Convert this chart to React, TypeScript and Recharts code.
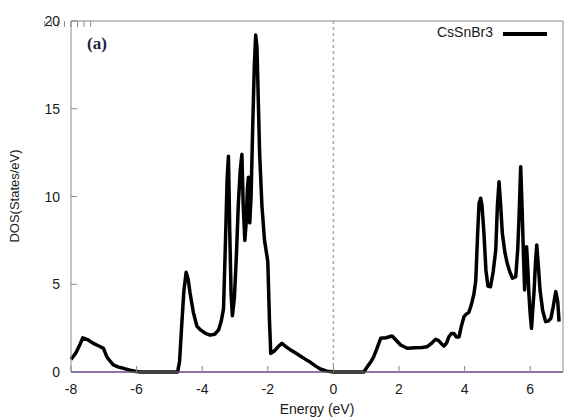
import { LineChart, Line, XAxis, YAxis, ReferenceLine } from 'recharts';

// Energy (eV) and total DOS (States/eV) for CsSnBr3
const energy = [
  -8.0, -7.85, -7.72, -7.64, -7.5, -7.32, -7.15, -7.01, -6.91, -6.8, -6.71, -6.55, -6.4, -6.2, -6.05, -5.9,
  -4.75, -4.69, -4.63, -4.56, -4.49, -4.43, -4.37, -4.27, -4.16, -4.05, -3.9, -3.76, -3.62, -3.5, -3.42, -3.35,
  -3.29, -3.24, -3.2, -3.16, -3.12, -3.08, -3.02, -2.96, -2.9, -2.84, -2.79, -2.75, -2.7, -2.66, -2.62, -2.59,
  -2.55, -2.51, -2.46, -2.41, -2.37, -2.33, -2.29, -2.25, -2.18, -2.1, -2.0, -1.95, -1.91, -1.8, -1.68, -1.57,
  -1.45, -1.3, -1.15, -1.01, -0.85, -0.7, -0.55, -0.4, -0.2, 0.0,
  0.93, 1.05, 1.15, 1.23, 1.32, 1.44, 1.6, 1.79, 1.92, 2.05, 2.25, 2.5, 2.7, 2.86, 3.0, 3.11, 3.2, 3.3, 3.37,
  3.45, 3.52, 3.6, 3.67, 3.75, 3.83, 3.9, 3.98, 4.05, 4.13, 4.2, 4.28, 4.34, 4.4, 4.44, 4.49, 4.53, 4.59, 4.65,
  4.71, 4.79, 4.87, 4.95, 5.0, 5.05, 5.1, 5.15, 5.23, 5.3, 5.38, 5.46, 5.56, 5.62, 5.66, 5.71, 5.75, 5.79, 5.83,
  5.86, 5.89, 5.93, 5.96, 6.0, 6.04, 6.08, 6.12, 6.16, 6.2, 6.25, 6.3, 6.38, 6.47, 6.55, 6.63, 6.7, 6.78, 6.84, 6.88,
];
const dos = [
  0.72, 1.1, 1.6, 1.95, 1.85, 1.63, 1.48, 1.35, 0.87, 0.6, 0.4, 0.28, 0.21, 0.1, 0.04, 0.0,
  0.0, 0.6, 2.5, 4.6, 5.68, 5.3, 4.5, 3.4, 2.6, 2.4, 2.2, 2.1, 2.15, 2.4, 2.9, 3.6,
  7.5, 11.0, 12.3, 8.0, 4.5, 3.2, 4.2, 6.5, 9.5, 11.5, 12.4, 9.5, 7.5, 8.5, 10.5, 11.1,
  8.5, 10.0, 14.0, 17.5, 19.2, 18.5, 15.5, 12.5, 9.5, 7.5, 6.3, 3.0, 1.06, 1.2, 1.45, 1.63,
  1.45, 1.25, 1.08, 0.91, 0.72, 0.55, 0.35, 0.17, 0.05, 0.0,
  0.0, 0.35, 0.6, 0.87, 1.3, 1.92, 1.95, 2.05, 1.8, 1.54, 1.35, 1.38, 1.4, 1.44, 1.65, 1.86, 1.8, 1.6, 1.48,
  1.65, 2.01, 2.2, 2.2, 2.0, 2.0, 2.6, 3.15, 3.3, 3.4, 3.8, 4.4, 5.2, 8.0, 9.6, 9.9, 9.5, 7.9, 5.8,
  4.9, 4.86, 5.7, 6.95, 9.5, 10.84, 9.5, 7.9, 6.8, 6.19, 5.7, 5.34, 5.43, 7.0, 8.85, 11.7, 9.5, 6.95, 4.67,
  6.0, 7.14, 5.8, 4.48, 3.3, 2.49, 3.6, 4.67, 6.2, 7.24, 6.0, 4.67, 3.5, 2.87, 2.9, 3.06, 3.7, 4.58, 4.0, 2.87,
];
const xTicks = [-8, -6, -4, -2, 0, 2, 4, 6];
const yTicks = [0, 5, 10, 15, 20];

const data = energy.map((e, i) => ({ e, dos: dos[i] }));

const BORDER = '#888';
const FONT = '"Liberation Sans", Arial, sans-serif';

const BottomTick = ({ x, y, payload }: any) => (
  <g>
    <line x1={x} x2={x} y1={y} y2={y - 6} stroke={BORDER} />
    <text x={x} y={y + 22} textAnchor="middle" fontSize={14} fontFamily={FONT} fill="#1a1a1a">
      {payload.value}
    </text>
  </g>
);
const TopTick = ({ x, y }: any) => <line x1={x} x2={x} y1={y} y2={y + 6} stroke={BORDER} />;
const LeftTick = ({ x, y, payload }: any) => (
  <g>
    <line x1={x} x2={x + 6} y1={y} y2={y} stroke={BORDER} />
    <text x={x - 11} y={y + 5} textAnchor="end" fontSize={14} fontFamily={FONT} fill="#1a1a1a">
      {payload.value}
    </text>
  </g>
);
const RightTick = ({ x, y }: any) => <line x1={x} x2={x - 6} y1={y} y2={y} stroke={BORDER} />;

export default function App() {
  return (
    <div style={{ position: 'relative', width: 564, height: 420, background: '#fff', fontFamily: FONT }}>
      <style>{'body{margin:0}'}</style>
      <LineChart width={564} height={420} data={data} margin={{ top: 20, right: 0, bottom: 0, left: 0 }}>
        <XAxis
          xAxisId="b"
          dataKey="e"
          type="number"
          domain={[-8, 7]}
          ticks={xTicks}
          interval={0}
          height={48}
          tickSize={0}
          tickMargin={0}
          stroke={BORDER}
          tick={BottomTick}
        />
        <XAxis
          xAxisId="t"
          orientation="top"
          type="number"
          domain={[-8, 7]}
          ticks={xTicks}
          interval={0}
          height={1}
          tickSize={0}
          tickMargin={0}
          stroke={BORDER}
          tick={TopTick}
        />
        <YAxis
          yAxisId="l"
          type="number"
          domain={[0, 20]}
          ticks={yTicks}
          interval={0}
          width={71}
          tickSize={0}
          tickMargin={0}
          stroke={BORDER}
          tick={LeftTick}
        />
        <YAxis
          yAxisId="r"
          orientation="right"
          type="number"
          domain={[0, 20]}
          ticks={yTicks}
          interval={0}
          width={1}
          tickSize={0}
          tickMargin={0}
          stroke={BORDER}
          tick={RightTick}
        />
        <ReferenceLine xAxisId="b" yAxisId="l" x={0} stroke="#aaa" strokeWidth={1.5} strokeDasharray="3 3" />
        <ReferenceLine xAxisId="b" yAxisId="l" y={0} stroke="#9a5cc6" strokeWidth={2} />
        <Line
          xAxisId="b"
          yAxisId="l"
          type="linear"
          dataKey="dos"
          stroke="#000"
          strokeWidth={3.5}
          strokeLinejoin="round"
          dot={false}
          isAnimationActive={false}
        />
      </LineChart>
      <div
        style={{
          position: 'absolute',
          left: 14,
          top: 196,
          transform: 'translate(-50%, -50%) rotate(-90deg)',
          whiteSpace: 'nowrap',
          fontSize: 13,
          color: '#1a1a1a',
        }}
      >
        DOS(States/eV)
      </div>
      <div style={{ position: 'absolute', left: 0, width: 564, top: 401, fontSize: 14, color: '#1a1a1a' }}>
        <span style={{ position: 'absolute', left: 317, transform: 'translateX(-50%)', whiteSpace: 'nowrap' }}>
          Energy (eV)
        </span>
      </div>
      <div
        style={{
          position: 'absolute',
          left: 87,
          top: 34,
          fontFamily: '"Liberation Serif", "DejaVu Serif", serif',
          fontWeight: 'bold',
          fontSize: 17,
          color: '#1b2440',
        }}
      >
        (a)
      </div>
      <div style={{ position: 'absolute', right: 71, top: 24, fontSize: 14, color: '#1a1a1a', whiteSpace: 'nowrap' }}>
        CsSnBr3
      </div>
      <div style={{ position: 'absolute', left: 503, top: 32, width: 44, height: 3.5, background: '#000' }} />
    </div>
  );
}
